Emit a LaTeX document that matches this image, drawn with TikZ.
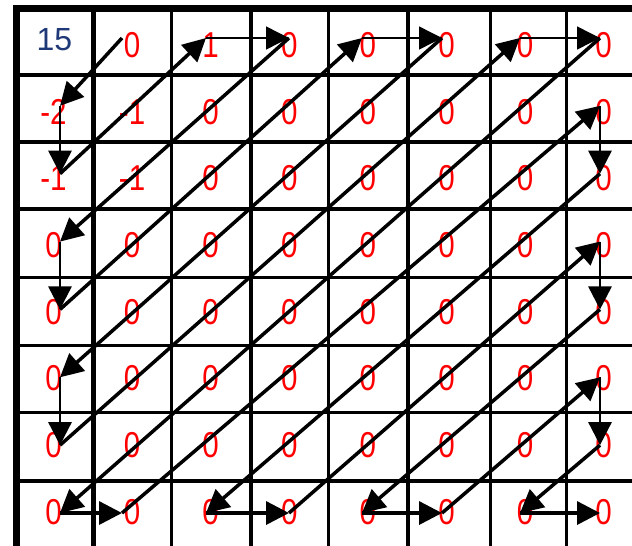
\documentclass[tikz,border=0pt]{standalone}
\usepackage{fontspec}
\setmainfont{Liberation Sans}
\usetikzlibrary{arrows.meta}
\definecolor{digred}{RGB}{255,0,0}
\definecolor{digblue}{RGB}{31,56,120}
\newcommand{\narrowval}[1]{\scalebox{0.82}[1]{#1}}
\begin{document}
\begin{tikzpicture}[x=1pt,y=-1pt,
  gridline/.style={line width=3.5pt, black},
  redval/.style={inner sep=0pt, text=digred, font=\fontsize{36}{36}\selectfont},
  blueval/.style={inner sep=0pt, text=digblue, font=\fontsize{32}{32}\selectfont},
  scan/.style={line width=3.5pt, -{Triangle[length=23pt,width=23pt]}},
  scanvert/.style={line width=2.7pt, -{Triangle[length=23pt,width=23pt]}},
  scanthin/.style={line width=1.4pt, -{Triangle[length=23pt,width=23pt]}}
]
\useasboundingbox (0,0) rectangle (632,546);
\clip (0,0) rectangle (632,546);
\fill[white] (0,0) rectangle (632,546);

% grid
\foreach \y in {75,142,209,277.5,345.5,412.5,481}
  \draw[gridline] (13,\y) -- (660,\y);
\foreach \x/\w in {171/3,250.5/4,328.5/3,408/4.5,490.5/3,566/3,93.5/5.5}
  \draw[line width=\w pt] (\x,5) -- (\x,560);
\draw[line width=7pt, line join=miter] (16.5,560) -- (16.5,8.5) -- (660,8.5);

% values
\foreach \r in {0,...,7}{
  \foreach \c in {0,...,7}{
    \def\t{0}
    \ifnum\r=0 \ifnum\c=2 \def\t{1}\fi\fi
    \ifnum\r=1 \ifnum\c=0 \def\t{-2}\fi\ifnum\c=1 \def\t{-1}\fi\fi
    \ifnum\r=2 \ifnum\c<2 \def\t{-1}\fi\fi
    \pgfmathsetmacro\dx{53.5+78.6*\c}
    \pgfmathsetmacro\dy{45+66.7*\r}
    \ifnum\r=0 \ifnum\c=0
      \node[blueval] (d-0-0) at (54.5,40) {15};
    \else
      \node[redval] (d-\r-\c) at (\dx,\dy) {\narrowval{\t}};
    \fi
    \else
      \node[redval] (d-\r-\c) at (\dx,\dy) {\narrowval{\t}};
    \fi
  }
}

% scan points
\foreach \c/\xv in {0/60,1/122,2/206,3/289,4/362,5/442,6/520,7/600}
  \foreach \r in {0,...,7}
    \coordinate (p-\r-\c) at (\xv,{38+67.86*\r});

% scan path
\draw[scan] (p-0-1) -- (p-1-0);
\draw[scanvert] (p-1-0) -- (p-2-0);
\draw[scan] (p-2-0) -- (p-0-2);
\draw[scanthin] (p-0-2) -- (p-0-3);
\draw[scan] (p-0-3) -- (p-3-0);
\draw[scanvert] (p-3-0) -- (p-4-0);
\draw[scan] (p-4-0) -- (p-0-4);
\draw[scanthin] (p-0-4) -- (p-0-5);
\draw[scan] (p-0-5) -- (p-5-0);
\draw[scanvert] (p-5-0) -- (p-6-0);
\draw[scan] (p-6-0) -- (p-0-6);
\draw[scanthin] (p-0-6) -- (p-0-7);
\draw[scan] (p-0-7) -- (p-7-0);
\draw[scan] (p-7-0) -- (p-7-1);
\draw[scan] (p-7-1) -- (p-1-7);
\draw[scanvert] (p-1-7) -- (p-2-7);
\draw[scan] (p-2-7) -- (p-7-2);
\draw[scan] (p-7-2) -- (p-7-3);
\draw[scan] (p-7-3) -- (p-3-7);
\draw[scanvert] (p-3-7) -- (p-4-7);
\draw[scan] (p-4-7) -- (p-7-4);
\draw[scan] (p-7-4) -- (p-7-5);
\draw[scan] (p-7-5) -- (p-5-7);
\draw[scanvert] (p-5-7) -- (p-6-7);
\draw[scan] (p-6-7) -- (p-7-6);
\draw[scan] (p-7-6) -- (p-7-7);
\end{tikzpicture}
\end{document}
